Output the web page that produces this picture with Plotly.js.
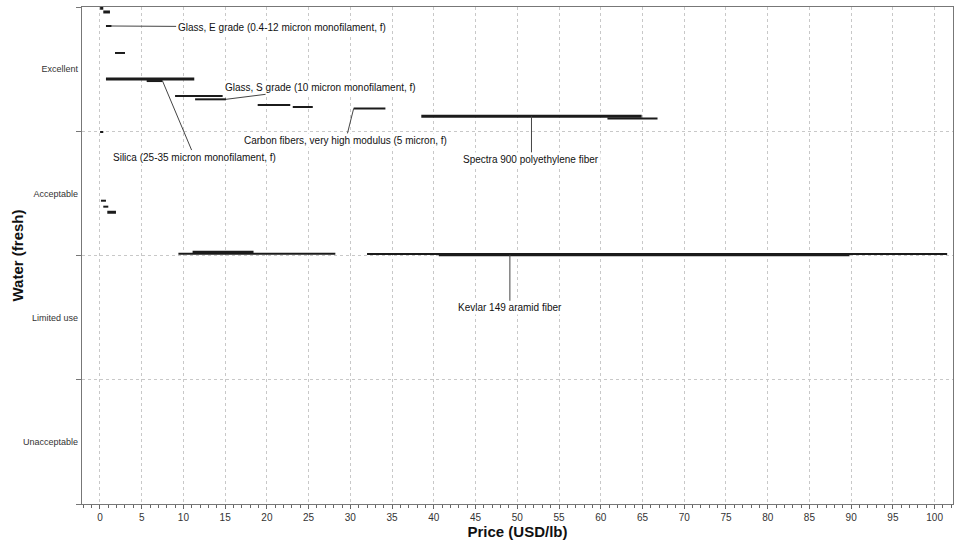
<!DOCTYPE html>
<html>
<head>
<meta charset="utf-8">
<script src="https://cdn.plot.ly/plotly-3.0.1.min.js"></script>
<style>
  html, body { margin: 0; padding: 0; background: #fff; }
  #chart { width: 960px; height: 544px; }
</style>
</head>
<body>
<div id="chart"></div>
<script>
// price ranges (USD/lb), one row per material bar
const priceLow  = [0.02, 0.4, 0.72, 1.8, 0.72, 5.6, 9.0, 11.4, 18.9, 23.1, 30.4, 38.5, 60.8, 0.02, 0.12, 0.4, 0.88, 9.4, 11.1, 32.0, 40.6];
const priceHigh = [0.4, 1.2, 1.4, 3.0, 11.3, 7.5, 14.7, 15.1, 22.8, 25.5, 34.2, 64.9, 66.8, 0.4, 0.72, 1.0, 1.92, 28.2, 18.4, 101.5, 89.8];
// water (fresh) rating: 0-1 unacceptable, 1-2 limited use, 2-3 acceptable, 3-4 excellent
const waterScore = [3.99, 3.96, 3.847, 3.63, 3.421, 3.404, 3.283, 3.257, 3.211, 3.195, 3.184, 3.12, 3.103, 2.994, 2.441, 2.393, 2.348, 2.014, 2.026, 2.012, 2.006];
const materials = ['', '', 'Glass, E grade (0.4-12 micron monofilament, f)', '', '', 'Silica (25-35 micron monofilament, f)', '', 'Glass, S grade (10 micron monofilament, f)', '', '', 'Carbon fibers, very high modulus (5 micron, f)', 'Spectra 900 polyethylene fiber', '', '', '', '', '', '', '', '', 'Kevlar 149 aramid fiber'];

const ratingLabels = ['Unacceptable', 'Limited use', 'Acceptable', 'Excellent'];
const xTickStep = 5;

// which bars are drawn heavier
const heavyBars = [0, 1, 4, 11, 16, 18, 20];

// where the leader line meets the bar (fraction along it) and where the label sits (px offset)
const labelSpots = {
    2:  { at: 1,     ax: 170, ay: 1 },
    5:  { at: 1,     ax: 32,  ay: 76 },
    7:  { at: 1,     ax: 95,  ay: -12 },
    10: { at: 0,     ax: -8,  ay: 32 },
    11: { at: 0.5,   ax: 0,   ay: 43 },
    20: { at: 0.173, ax: 0,   ay: 53 }
};

const traces = priceLow.map((lo, i) => ({
    type: 'scatter',
    mode: 'lines',
    x: [lo, priceHigh[i]],
    y: [waterScore[i], waterScore[i]],
    name: materials[i],
    line: { color: '#1b1b1b', width: heavyBars.includes(i) ? 3 : 2 },
    hoverinfo: 'x+name',
    showlegend: false
}));

// empty trace so the label axis gets drawn
traces.push({ type: 'scatter', x: [], y: [], yaxis: 'y2', showlegend: false, hoverinfo: 'skip' });

const annotations = Object.keys(labelSpots).map(k => {
    const i = +k;
    const s = labelSpots[k];
    return {
        x: priceLow[i] + s.at * (priceHigh[i] - priceLow[i]),
        y: waterScore[i],
        xref: 'x', yref: 'y',
        text: materials[i],
        showarrow: true,
        arrowhead: 0,
        arrowwidth: 1,
        arrowcolor: '#444',
        ax: s.ax, ay: s.ay,
        bgcolor: '#fff',
        borderpad: 1,
        font: { family: 'Liberation Sans, Arial, sans-serif', size: 10, color: '#111' }
    };
});

const layout = {
    width: 960,
    height: 544,
    margin: { l: 82, r: 7, t: 7, b: 40 },
    paper_bgcolor: '#fff',
    plot_bgcolor: '#fff',
    font: { family: 'Liberation Sans, Arial, sans-serif', size: 9, color: '#222' },
    xaxis: {
        range: [-2.15, 102.2],
        tick0: 0,
        dtick: xTickStep,
        ticks: 'outside',
        ticklen: 4,
        tickcolor: '#666',
        minor: { dtick: 1, ticks: 'outside', ticklen: 3, tickcolor: '#666', showgrid: false },
        showgrid: true,
        gridcolor: '#c8c8c8',
        griddash: 'dot',
        zeroline: false,
        showline: true,
        linecolor: '#777',
        mirror: true,
        tickfont: { size: 10, color: '#333' },
        title: { text: 'Price (USD/lb)', standoff: 4, font: { size: 15, color: '#111', weight: 'bold' } }
    },
    yaxis: {
        range: [0, 4],
        tickvals: [0, 1, 2, 3, 4],
        showticklabels: false,
        ticks: 'outside',
        ticklen: 5,
        tickcolor: '#777',
        showgrid: true,
        gridcolor: '#c8c8c8',
        griddash: 'dot',
        zeroline: false,
        showline: true,
        linecolor: '#777',
        mirror: true,
        title: { text: 'Water (fresh)', standoff: 48, font: { size: 15, color: '#111', weight: 'bold' } }
    },
    yaxis2: {
        overlaying: 'y',
        side: 'left',
        range: [0, 4],
        tickvals: [0.5, 1.5, 2.5, 3.5],
        ticktext: ratingLabels,
        ticks: '',
        showgrid: false,
        zeroline: false,
        showline: false,
        tickfont: { size: 9, color: '#333' },
        ticklabelstandoff: 3
    },
    annotations: annotations
};

Plotly.newPlot('chart', traces, layout, { displayModeBar: false, staticPlot: true });
</script>
</body>
</html>
